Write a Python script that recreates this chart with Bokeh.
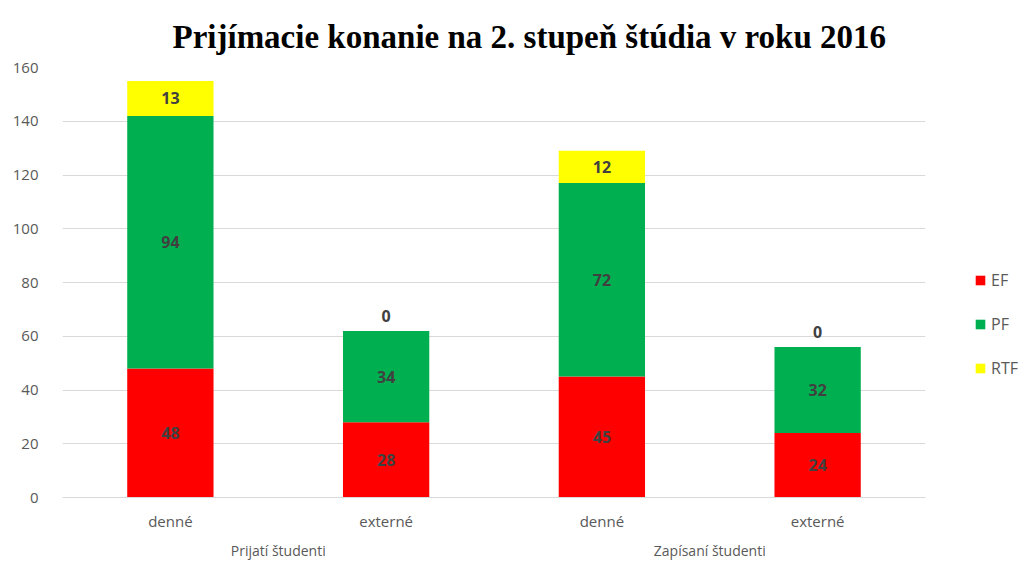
from bokeh.plotting import figure
from bokeh.models import FactorRange, ColumnDataSource, FixedTicker, Legend, LegendItem, Title
from bokeh.embed import file_html
from bokeh.resources import INLINE
from bokeh.core.properties import value

groups = ["Prijatí študenti", "Prijatí študenti", "Zapísaní študenti", "Zapísaní študenti"]
types = ["denné", "externé", "denné", "externé"]
series = ["EF", "PF", "RTF"]
ef = [48, 28, 45, 24]
pf = [94, 34, 72, 32]
rtf = [13, 0, 12, 0]
colors = ["#ff0000", "#00b050", "#ffff00"]
y_ticks = [0, 20, 40, 60, 80, 100, 120, 140, 160]

factors = list(zip(groups, types))
data = {"x": factors, "EF": ef, "PF": pf, "RTF": rtf}
src = ColumnDataSource(data)

p = figure(x_range=FactorRange(*factors, group_padding=0, factor_padding=0, range_padding=0),
           y_range=(0, 160), width=1025, height=564,
           frame_width=863, frame_height=430,
           min_border_left=62, min_border_right=100, min_border_top=67, min_border_bottom=67,
           output_backend="svg", toolbar_location=None, title=None)

t = Title(text="Prijímacie konanie na 2. stupeň  štúdia v roku 2016", align="left",
          text_font="Liberation Serif", text_font_size="33px", text_font_style="bold",
          text_color="#000000", offset=110, standoff=26)
p.add_layout(t, "above")

renderers = p.vbar_stack(series, x="x", width=0.4, color=colors, source=src, line_color=None)

# labels
xs, ys, txt, offs = [], [], [], []
for i, f in enumerate(factors):
    base = 0
    for vals in (ef, pf, rtf):
        v = vals[i]
        xs.append(f)
        ys.append(base + v / 2)
        txt.append(str(v))
        offs.append(-15 if v == 0 else 0)
        base += v
lsrc = ColumnDataSource(dict(x=xs, y=ys, t=txt, o=offs))
p.text(x="x", y="y", text="t", y_offset="o", source=lsrc, text_align="center", text_baseline="middle",
       text_font=value("Open Sans"), text_font_size="16px", text_font_style="bold", text_color="#404040")

legend = Legend(items=[LegendItem(label=s, renderers=[r]) for s, r in zip(series, renderers)],
                location=(49, 118), orientation="vertical",
                glyph_width=12, glyph_height=12, label_text_font="Open Sans", label_text_font_size="16px",
                label_text_color="#595959", spacing=22, label_standoff=5, border_line_color=None,
                background_fill_alpha=0, padding=0, margin=0, label_height=17)
p.add_layout(legend, "right")

p.ygrid.ticker = FixedTicker(ticks=y_ticks[1:-1])
p.ygrid.grid_line_color = "#d9d9d9"
p.xgrid.grid_line_color = None
p.yaxis.ticker = FixedTicker(ticks=y_ticks)
p.yaxis.axis_line_color = None
p.yaxis.major_tick_line_color = None
p.yaxis.minor_tick_line_color = None
p.yaxis.major_label_standoff = 18
p.yaxis.major_label_text_font = "Open Sans"
p.yaxis.major_label_text_font_size = "15px"
p.yaxis.major_label_text_color = "#595959"

p.xaxis.axis_line_color = "#d9d9d9"
p.xaxis.major_tick_line_color = None
p.xaxis.minor_tick_line_color = None
p.xaxis.major_label_text_font = "Open Sans"
p.xaxis.major_label_text_font_size = "15px"
p.xaxis.major_label_text_color = "#595959"
p.xaxis.group_text_font = "Open Sans"
p.xaxis.group_text_font_size = "14px"
p.xaxis.group_text_color = "#595959"
p.xaxis.group_text_font_style = "normal"
p.xaxis.separator_line_color = None
p.xaxis.major_label_standoff = 7
p.xaxis.group_label_orientation = "horizontal"
p.outline_line_color = None

open("out.html", "w").write(file_html(p, INLINE))
